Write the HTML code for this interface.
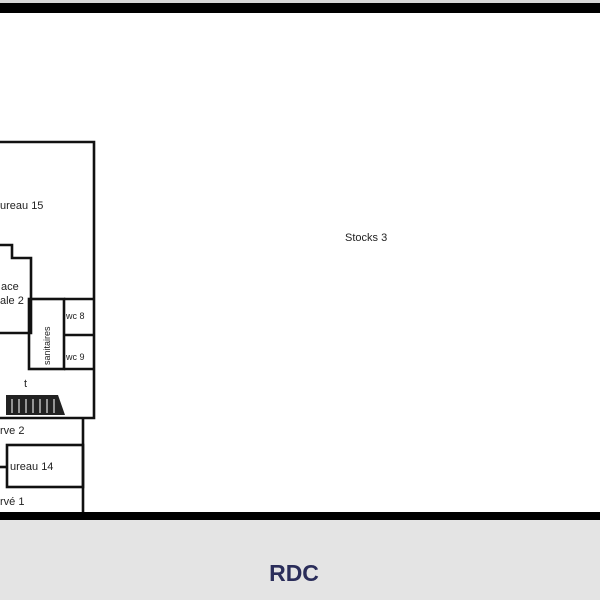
<!DOCTYPE html>
<html><head><meta charset="utf-8"><style>
body{margin:0;width:600px;height:600px;overflow:hidden;background:#fff;font-family:"Liberation Sans",sans-serif}
</style></head><body>
<svg width="600" height="600" xmlns="http://www.w3.org/2000/svg" style="position:absolute;left:0;top:0">
<rect x="0" y="0" width="600" height="3" fill="#d8d8d8"/>
<rect x="0" y="3" width="600" height="10" fill="#000"/>
<rect x="0" y="520" width="600" height="80" fill="#e4e4e4"/>
<rect x="0" y="512" width="600" height="8" fill="#000"/>
<g fill="none" stroke="#111" stroke-width="2.6">
<polyline points="0,142 94,142 94,418 0,418"/>
<polyline points="0,245 12,245 12,258 31,258 31,333 0,333"/>
<rect x="29" y="299" width="35" height="70"/>
<polyline points="64,299 94,299"/>
<polyline points="64,335 94,335"/>
<polyline points="64,369 94,369"/>
<polyline points="83,418 83,512"/>
<rect x="7" y="445" width="76" height="42"/>
<line x1="0" y1="467" x2="7" y2="467"/>
</g>
<polygon points="6,395 58,395 65,415 6,415" fill="#222"/>
<g stroke="#bbb" stroke-width="1.5">
<line x1="12" y1="399" x2="12" y2="413"/><line x1="19" y1="399" x2="19" y2="413"/><line x1="26" y1="399" x2="26" y2="413"/><line x1="33" y1="399" x2="33" y2="413"/><line x1="40" y1="399" x2="40" y2="413"/><line x1="47" y1="399" x2="47" y2="413"/><line x1="54" y1="399" x2="54" y2="413"/>
</g>
<g font-size="11" fill="#222" font-family="Liberation Sans,sans-serif">
<text x="0" y="209">ureau 15</text>
<text x="1" y="290">ace</text>
<text x="0" y="304">ale 2</text>
<text x="66" y="319" font-size="9">wc 8</text>
<text x="66" y="360" font-size="9">wc 9</text>
<text x="24" y="387">t</text>
<text x="0" y="434">rve 2</text>
<text x="10" y="470">ureau 14</text>
<text x="0" y="505">rvé 1</text>
<text x="345" y="241">Stocks 3</text>
<text transform="translate(50,365) rotate(-90)" font-size="9">sanitaires</text>
</g>
<text x="294" y="581" text-anchor="middle" font-size="23" font-weight="bold" fill="#2a2d5a">RDC</text>
</svg>
</body></html>
